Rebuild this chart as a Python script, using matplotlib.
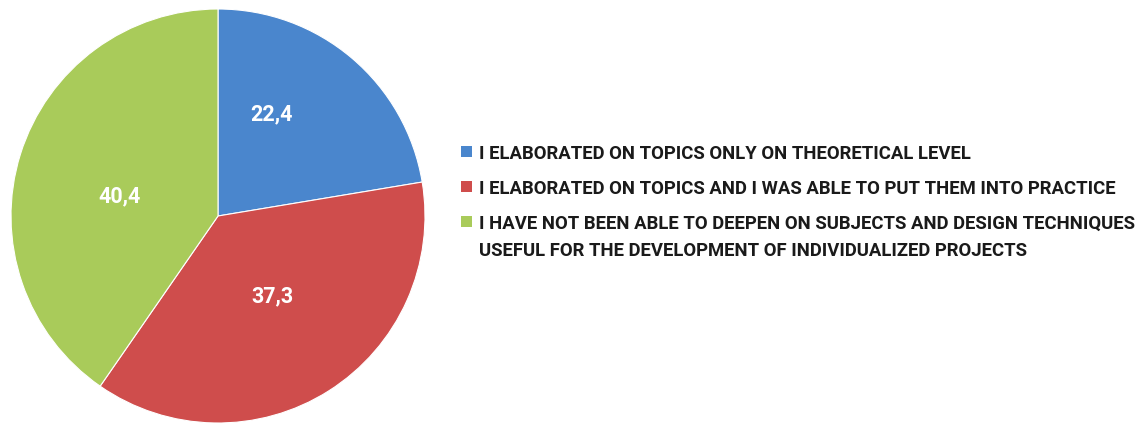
import matplotlib
matplotlib.use("Agg")
import matplotlib.pyplot as plt
from matplotlib.patches import Rectangle
import numpy as np

fam = "Roboto"

categories = [
    "I ELABORATED ON TOPICS ONLY ON THEORETICAL LEVEL",
    "I ELABORATED ON TOPICS AND I WAS ABLE TO PUT THEM INTO PRACTICE",
    "I HAVE NOT BEEN ABLE TO DEEPEN ON SUBJECTS AND DESIGN TECHNIQUES\nUSEFUL FOR THE DEVELOPMENT OF INDIVIDUALIZED PROJECTS",
]
values = [22.4, 37.3, 40.4]
value_labels = ["22,4", "37,3", "40,4"]
colors = ["#4a86cd", "#cf4d4c", "#a9cb5a"]

W, H = 1141, 427
fig = plt.figure(figsize=(W / 100, H / 100), dpi=100)
ax = fig.add_axes([11 / W, 3 / H, 414 / W, 414 / H])
wedges, _ = ax.pie(values, colors=colors, startangle=90, counterclock=False,
                   wedgeprops=dict(linewidth=0.8, edgecolor="white"))
ax.set_xlim(-1, 1)
ax.set_ylim(-1, 1)
ax.set_aspect("equal")

label_r = [0.56, 0.466, 0.484]
label_shift = [12.6, 1.8, 5.5]
for w, t, r, s in zip(wedges, value_labels, label_r, label_shift):
    mid = np.deg2rad((w.theta1 + w.theta2) / 2 + s)
    ax.text(r * np.cos(mid), r * np.sin(mid), t, ha="center", va="center",
            color="white", fontsize=15.5, fontweight="bold", family=fam)

# manual legend
row_y = [152, 187, 222]
line_gap = 27
for w, lab, y in zip(wedges, categories, row_y):
    fig.patches.append(Rectangle((461 / W, 1 - (y + 5.5) / H), 11 / W, 11 / H,
                                 transform=fig.transFigure, facecolor=w.get_facecolor(),
                                 edgecolor="none"))
    for i, line in enumerate(lab.split("\n")):
        fig.text(479 / W, 1 - (y + i * line_gap) / H, line, ha="left", va="center_baseline",
                 family=fam, fontweight="bold", fontsize=13.35, color="#1a1a1a")

fig.savefig("out.png", dpi=100)
